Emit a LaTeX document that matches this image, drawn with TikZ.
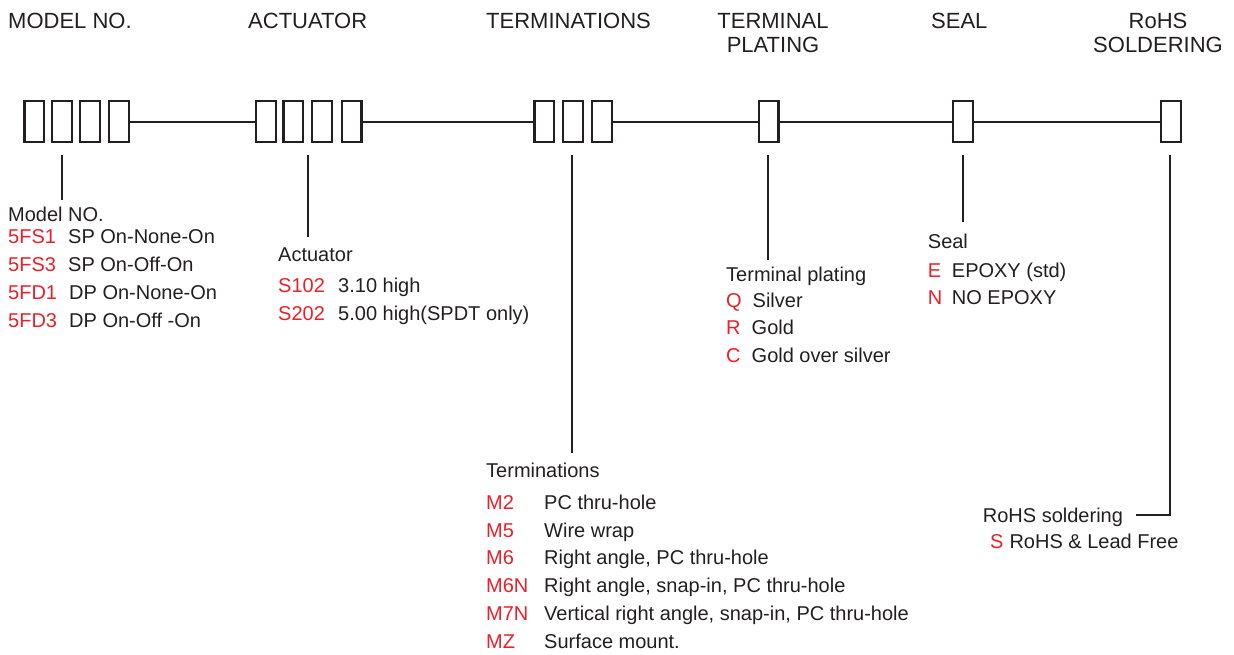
\documentclass[tikz,border=0pt]{standalone}
\usepackage{fontspec}
\usetikzlibrary{backgrounds}
\setmainfont{Liberation Sans}
\definecolor{codered}{HTML}{E8202A}
\definecolor{ink}{HTML}{231F20}
\begin{document}
\begin{tikzpicture}[x=1pt,y=-1pt,
  bx/.style={draw=ink,line width=2.1pt,minimum width=19.6pt,minimum height=41pt,inner sep=0pt,fill=white},
  wire/.style={draw=ink,line width=2pt},
  hdr/.style={inner sep=0pt,text=ink,font=\fontsize{22}{26}\selectfont,align=center},
  lbl/.style={anchor=base west,inner sep=0pt,text=ink,font=\fontsize{20}{24}\selectfont},
  code/.style={anchor=base west,inner sep=0pt,text=codered,font=\fontsize{20}{24}\selectfont}]
\useasboundingbox (0,0) rectangle (1234,654);
% headers
\node[hdr,anchor=base west] (h1) at (8,28) {MODEL NO.};
\node[hdr,anchor=base west] (h2) at (248,28) {ACTUATOR};
\node[hdr,anchor=base west] (h3) at (486,28) {TERMINATIONS};
\node[hdr,anchor=base] (h4) at (773,28) {TERMINAL};
\node[hdr,anchor=base] (h4b) at (773,52) {PLATING};
\node[hdr,anchor=base west] (h5) at (931,28) {SEAL};
\node[hdr,anchor=base] (h6) at (1158,28) {RoHS};
\node[hdr,anchor=base] (h6b) at (1158,52) {SOLDERING};
% boxes
\node[bx] (m1) at (34.3,121.5) {};
\node[bx] (m2) at (62,121.5) {};
\node[bx] (m3) at (90.2,121.5) {};
\node[bx] (m4) at (119.2,121.5) {};
\node[bx] (a1) at (265.8,121.5) {};
\node[bx] (a2) at (293.3,121.5) {};
\node[bx] (a3) at (322.2,121.5) {};
\node[bx] (a4) at (351.7,121.5) {};
\node[bx] (t1) at (544.3,121.5) {};
\node[bx] (t2) at (573,121.5) {};
\node[bx] (t3) at (601.8,121.5) {};
\node[bx] (p1) at (768.7,121.5) {};
\node[bx] (s1) at (963,121.5) {};
\node[bx] (r1) at (1171,121.5) {};
% connecting wires
\begin{scope}[on background layer]
\draw[wire] (m4.center) -- (a1.center);
\draw[wire] (a4.center) -- (t1.center);
\draw[wire] (t3.center) -- (p1.center);
\draw[wire] (p1.center) -- (s1.center);
\draw[wire] (s1.center) -- (r1.center);
\end{scope}
% drop lines
\coordinate (mv0) at (62,155); \coordinate (mv1) at (62,200);
\coordinate (av0) at (307.5,155); \coordinate (av1) at (307.5,237);
\coordinate (tv0) at (572,155); \coordinate (tv1) at (572,453);
\coordinate (pv0) at (768,155); \coordinate (pv1) at (768,260);
\coordinate (sv0) at (962.5,155); \coordinate (sv1) at (962.5,222);
\coordinate (rv0) at (1170,155); \coordinate (rv1) at (1170,515); \coordinate (rv2) at (1136,515);
\draw[wire] (mv0) -- (mv1);
\draw[wire] (av0) -- (av1);
\draw[wire] (tv0) -- (tv1);
\draw[wire] (pv0) -- (pv1);
\draw[wire] (sv0) -- (sv1);
\draw[wire] (rv0) -- (rv1) -- (rv2);
% model
\node[lbl] (ml) at (8,221.7) {Model NO.};
\node[code] (mc1) at (8,243.5) {5FS1};  \node[lbl] (md1) at (68,243.5) {SP On-None-On};
\node[code] (mc2) at (8,271.5) {5FS3};  \node[lbl] (md2) at (68,271.5) {SP On-Off-On};
\node[code] (mc3) at (8,299.5) {5FD1};  \node[lbl] (md3) at (69,299.5) {DP On-None-On};
\node[code] (mc4) at (8,327.5) {5FD3};  \node[lbl] (md4) at (69,327.5) {DP On-Off -On};
% actuator
\node[lbl] (al) at (278,261.7) {Actuator};
\node[code] (ac1) at (278,292.7) {S102}; \node[lbl] (ad1) at (338,292.7) {3.10 high};
\node[code] (ac2) at (278,320) {S202}; \node[lbl] (ad2) at (338,320) {5.00 high(SPDT only)};
% terminations
\node[lbl] (tl) at (486,477.3) {Terminations};
\node[code] (tc1) at (486,509.3) {M2};  \node[lbl] (td1) at (544,509.3) {PC thru-hole};
\node[code] (tc2) at (486,537.1) {M5};  \node[lbl] (td2) at (544,537.1) {Wire wrap};
\node[code] (tc3) at (486,564.9) {M6};  \node[lbl] (td3) at (544,564.9) {Right angle, PC thru-hole};
\node[code] (tc4) at (486,592.7) {M6N}; \node[lbl] (td4) at (544,592.7) {Right angle, snap-in, PC thru-hole};
\node[code] (tc5) at (486,620.5) {M7N}; \node[lbl] (td5) at (544,620.5) {Vertical right angle, snap-in, PC thru-hole};
\node[code] (tc6) at (486,648.3) {MZ};  \node[lbl] (td6) at (544,648.3) {Surface mount.};
% terminal plating
\node[lbl] (pl) at (726,281.7) {Terminal plating};
\node[code] (pc1) at (726,307.5) {Q}; \node[lbl] (pd1) at (752.5,307.5) {Silver};
\node[code] (pc2) at (726,334.5) {R}; \node[lbl] (pd2) at (751.5,334.5) {Gold};
\node[code] (pc3) at (726,362.3) {C}; \node[lbl] (pd3) at (751.5,362.3) {Gold over silver};
% seal
\node[lbl] (sl) at (927.7,248.3) {Seal};
\node[code] (sc1) at (927.7,277.3) {E}; \node[lbl] (sd1) at (951.7,277.3) {EPOXY (std)};
\node[code] (sc2) at (927.7,304) {N}; \node[lbl] (sd2) at (951.7,304) {NO EPOXY};
% RoHS
\node[lbl] (rl) at (982.7,522.3) {RoHS soldering};
\node[code] (rc1) at (990,548.3) {S}; \node[lbl] (rd1) at (1009.3,548.3) {RoHS \& Lead Free};
\end{tikzpicture}
\end{document}
